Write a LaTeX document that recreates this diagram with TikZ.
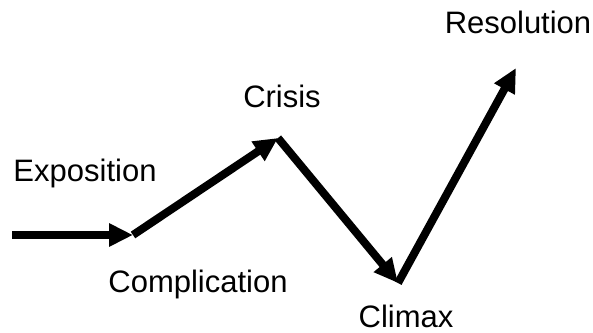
\documentclass[tikz,border=0pt]{standalone}
\usepackage{fontspec}
\setmainfont{Liberation Sans}
\usetikzlibrary{arrows.meta}

\tikzset{
    plotarrow/.style={line width=4pt, -{Triangle[length=12pt,width=11pt]}},
    plotlabel/.style={anchor=base, inner sep=0pt, font=\fontsize{15.5}{18}\selectfont}
}

\begin{document}
\begin{tikzpicture}[x=0.5pt, y=-0.5pt]

    \useasboundingbox (0,0) rectangle (593,332);

    \coordinate (start) at (12,235);
    \coordinate (compl) at (133,235);
    \coordinate (crisis) at (278,138);
    \coordinate (climax) at (398,283);
    \coordinate (resol) at (516,68);

    \node[plotlabel] (expo) at (85,181) {Exposition};
    \node[plotlabel] (complabel) at (198,292) {Complication};
    \node[plotlabel] (crisislabel) at (282,107) {Crisis};
    \node[plotlabel] (climaxlabel) at (406,327) {Climax};
    \node[plotlabel] (resollabel) at (518,33) {Resolution};

    \draw[plotarrow] (start) -- (compl);
    \draw[plotarrow] (compl) -- (crisis);
    \draw[plotarrow] (crisis) -- (climax);
    \draw[plotarrow] (climax) -- (resol);

\end{tikzpicture}
\end{document}
